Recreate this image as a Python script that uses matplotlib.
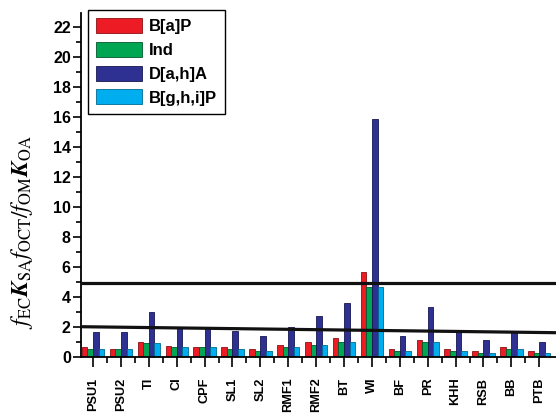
import matplotlib
matplotlib.use("Agg")
import matplotlib.pyplot as plt
import numpy as np
from matplotlib.ticker import MultipleLocator, FixedLocator

categories = ["PSU1", "PSU2", "TI", "CI", "CPF", "SL1", "SL2", "RMF1", "RMF2",
              "BT", "WI", "BF", "PR", "KHH", "RSB", "BB", "PTB"]
bap = [0.65, 0.50, 1.00, 0.73, 0.65, 0.65, 0.50, 0.76, 1.00, 1.25, 5.65, 0.51, 1.11, 0.51, 0.38, 0.65, 0.38]
ind = [0.50, 0.50, 0.90, 0.63, 0.65, 0.50, 0.38, 0.63, 0.76, 0.98, 4.63, 0.38, 0.98, 0.38, 0.27, 0.51, 0.27]
dah = [1.63, 1.63, 2.96, 1.90, 1.90, 1.73, 1.38, 1.96, 2.70, 3.56, 15.85, 1.38, 3.31, 1.65, 1.11, 1.65, 0.98]
bghi = [0.50, 0.50, 0.90, 0.63, 0.65, 0.50, 0.38, 0.63, 0.76, 0.98, 4.63, 0.38, 0.98, 0.38, 0.27, 0.51, 0.27]
series_names = ["B[a]P", "Ind", "D[a,h]A", "B[g,h,i]P"]
colors = ["#ED1C24", "#00A651", "#2E3192", "#00AEEF"]
edges = ["#8a1015", "#005a2c", "#15174f", "#006a92"]
hline_level = 4.9
slant_start, slant_end = 2.0, 1.6

plt.rcParams['mathtext.fontset'] = 'stix'
fig = plt.figure(figsize=(5.56, 4.15), dpi=100)
ax = fig.add_axes([80.5/556, (415-356.7)/415, 1-80.5/556, (356.7-13.2)/415])

x = np.arange(len(categories))
w = 0.2
handles = []
for i, (vals, c, ec, name) in enumerate(zip([bap, ind, dah, bghi], colors, edges, series_names)):
    h = ax.bar(x + (i - 1.5) * w, vals, width=w, color=c, edgecolor=ec, linewidth=0.6,
               label=name, zorder=2)
    handles.append(h)

xmin, xmax = -0.45, 16.6
ax.set_xlim(xmin, xmax)
ax.set_ylim(0, 22.9)

ax.plot([xmin, xmax], [hline_level, hline_level], color="#111111", lw=2.3, zorder=3, solid_capstyle='butt')
ax.plot([xmin, xmax], [slant_start, slant_end], color="#111111", lw=2.3, zorder=3, solid_capstyle='butt')

for s in ["top", "right"]:
    ax.spines[s].set_visible(False)
ax.spines["left"].set_linewidth(1.3)
ax.spines["bottom"].set_linewidth(1.3)

ax.set_yticks(np.arange(0, 23, 2))
ax.yaxis.set_minor_locator(MultipleLocator(1))
ax.set_xticks(x)
ax.xaxis.set_minor_locator(FixedLocator(x[:-1] + 0.5))
ax.set_xticklabels(categories, rotation=90, fontsize=9.2, fontweight="bold",
                   family="Liberation Sans", va="top", ha="center")
for lab in ax.get_yticklabels():
    lab.set_fontsize(11.5)
    lab.set_fontweight("bold")
    lab.set_family("Liberation Sans")
ax.tick_params(axis="y", which="major", direction="out", length=6, width=1.2, pad=1)
ax.tick_params(axis="y", which="minor", direction="out", length=3.5, width=1.2)
ax.tick_params(axis="x", which="major", direction="out", length=7, width=1.2, pad=8)
ax.tick_params(axis="x", which="minor", direction="out", length=4, width=1.2)

leg = ax.legend(handles=handles, loc="upper left", bbox_to_anchor=(88/556, 1-10/415),
                bbox_transform=fig.transFigure, borderaxespad=0, fancybox=False,
                edgecolor="black", framealpha=1, handlelength=2.75, handleheight=1.0,
                labelspacing=0.45, handletextpad=0.4, borderpad=0.5,
                prop={"family": "Liberation Sans", "weight": "bold", "size": 12})
leg.get_frame().set_linewidth(1.0)

fig.text(22/556, 1-232/415,
         r"$f_{\rm EC}\boldsymbol{K}_{\rm SA}f_{\rm OCT}/f_{\rm OM}\boldsymbol{K}_{\rm OA}$",
         rotation=90, ha="center", va="center", fontsize=17)

fig.savefig("out.png", dpi=100)
